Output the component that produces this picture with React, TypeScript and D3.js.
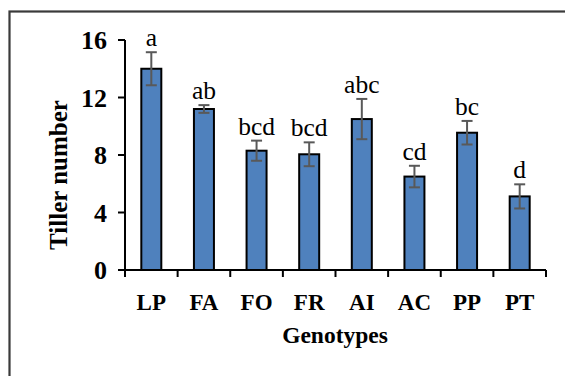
import React from "react";
import * as d3 from "d3";

const genotypes = ["LP", "FA", "FO", "FR", "AI", "AC", "PP", "PT"];
const tillerMeans = [14.0, 11.2, 8.3, 8.05, 10.5, 6.5, 9.55, 5.12];
const tillerErrors = [1.15, 0.27, 0.7, 0.83, 1.4, 0.75, 0.82, 0.84];
const groupLetters = ["a", "ab", "bcd", "bcd", "abc", "cd", "bc", "d"];
const yTicks = [0, 4, 8, 12, 16];

const W = 565;
const H = 376;
const plot = { left: 125, right: 546, top: 40, bottom: 270 };

export default function App() {
  const x = d3
    .scaleBand<string>()
    .domain(genotypes)
    .range([plot.left, plot.right])
    .paddingInner(0.62)
    .paddingOuter(0.31);
  const band = (plot.right - plot.left) / genotypes.length;
  const y = d3.scaleLinear().domain([0, 16]).range([plot.bottom, plot.top]);
  const serif = "'Liberation Serif', 'Times New Roman', serif";
  const boundaries = d3.range(genotypes.length + 1).map((i) => plot.left + i * band);

  return (
    <svg
      width={W}
      height={H}
      style={{ position: "absolute", left: 0, top: 0, background: "#fff" }}
      fontFamily={serif}
    >
      <rect x={0} y={0} width={W} height={H} fill="#fff" />
      <rect x={9.5} y={11.5} width={700} height={500} fill="none" stroke="#3a3a3a" strokeWidth={2.2} />

      {/* bars */}
      {genotypes.map((g, i) => (
        <rect
          key={g}
          x={x(g)!}
          y={y(tillerMeans[i])}
          width={x.bandwidth()}
          height={y(0) - y(tillerMeans[i])}
          fill="#4F81BD"
          stroke="#000"
          strokeWidth={2}
        />
      ))}

      {/* error bars */}
      {genotypes.map((g, i) => {
        const cx = x(g)! + x.bandwidth() / 2;
        const top = y(tillerMeans[i] + tillerErrors[i]);
        const bot = y(tillerMeans[i] - tillerErrors[i]);
        return (
          <g key={g} stroke="#595959" strokeWidth={2}>
            <line x1={cx} x2={cx} y1={top} y2={bot} />
            <line x1={cx - 5.5} x2={cx + 5.5} y1={top} y2={top} />
            <line x1={cx - 5.5} x2={cx + 5.5} y1={bot} y2={bot} />
          </g>
        );
      })}

      {/* letters */}
      {genotypes.map((g, i) => (
        <text
          key={g}
          x={x(g)! + x.bandwidth() / 2}
          y={y(tillerMeans[i] + tillerErrors[i]) - 6}
          textAnchor="middle"
          fontSize={25.5}
          fill="#000"
        >
          {groupLetters[i]}
        </text>
      ))}

      {/* y axis */}
      <line x1={plot.left} x2={plot.left} y1={plot.top} y2={plot.bottom} stroke="#000" strokeWidth={2} />
      {yTicks.map((t) => (
        <g key={t}>
          <line x1={plot.left - 7} x2={plot.left} y1={y(t)} y2={y(t)} stroke="#000" strokeWidth={2} />
          <text
            x={plot.left - 18}
            y={y(t)}
            dy="0.35em"
            textAnchor="end"
            fontSize={26}
            fontWeight="bold"
          >
            {t}
          </text>
        </g>
      ))}

      {/* x axis */}
      <line x1={plot.left} x2={plot.right} y1={plot.bottom} y2={plot.bottom} stroke="#000" strokeWidth={2} />
      {boundaries.map((b, i) => (
        <line key={i} x1={b} x2={b} y1={plot.bottom} y2={plot.bottom + 7} stroke="#000" strokeWidth={2} />
      ))}
      {genotypes.map((g) => (
        <text
          key={g}
          x={x(g)! + x.bandwidth() / 2}
          y={310}
          textAnchor="middle"
          fontSize={23}
          fontWeight="bold"
        >
          {g}
        </text>
      ))}

      <text x={335} y={343} textAnchor="middle" fontSize={23.5} fontWeight="bold">
        Genotypes
      </text>
      <text
        transform={`translate(67, 175) rotate(-90)`}
        textAnchor="middle"
        fontSize={25}
        fontWeight="bold"
      >
        Tiller number
      </text>
    </svg>
  );
}
